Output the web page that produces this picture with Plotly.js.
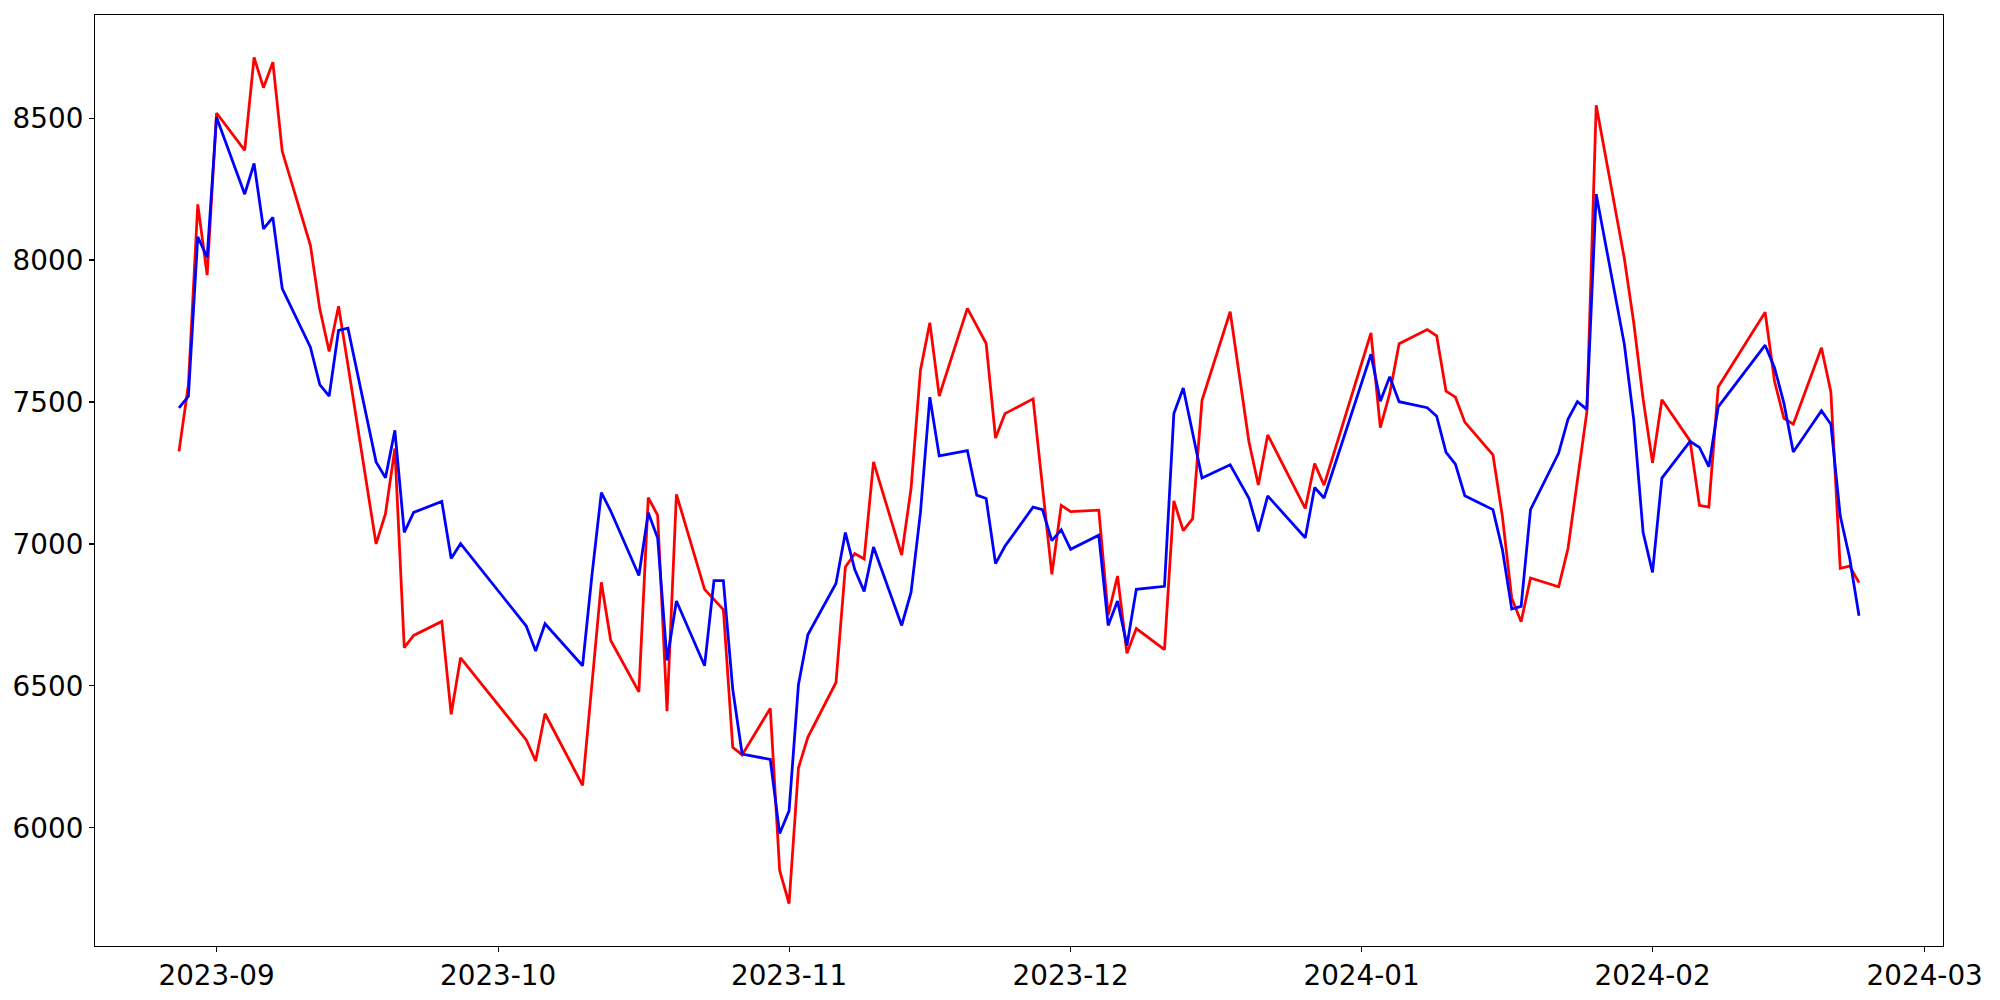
<!DOCTYPE html>
<html>
<head>
<meta charset="utf-8">
<script src="https://cdn.plot.ly/plotly-3.0.1.min.js"></script>
<style>html,body{margin:0;padding:0;background:#fff;}#chart{width:2000px;height:1000px;}</style>
</head>
<body>
<div id="chart"></div>
<script>
const dates = [
'2023-08-28','2023-08-29','2023-08-30','2023-08-31','2023-09-01',
'2023-09-04','2023-09-05','2023-09-06','2023-09-07','2023-09-08',
'2023-09-11','2023-09-12','2023-09-13','2023-09-14','2023-09-15',
'2023-09-18','2023-09-19','2023-09-20','2023-09-21','2023-09-22',
'2023-09-25','2023-09-26','2023-09-27',
'2023-10-04','2023-10-05','2023-10-06',
'2023-10-10','2023-10-11','2023-10-12','2023-10-13',
'2023-10-16','2023-10-17','2023-10-18','2023-10-19','2023-10-20',
'2023-10-23','2023-10-24','2023-10-25','2023-10-26','2023-10-27',
'2023-10-30','2023-10-31','2023-11-01','2023-11-02','2023-11-03',
'2023-11-06','2023-11-07','2023-11-08','2023-11-09','2023-11-10',
'2023-11-13','2023-11-14','2023-11-15','2023-11-16','2023-11-17',
'2023-11-20','2023-11-21','2023-11-22','2023-11-23','2023-11-24',
'2023-11-27','2023-11-28','2023-11-29','2023-11-30','2023-12-01',
'2023-12-04','2023-12-05','2023-12-06','2023-12-07','2023-12-08',
'2023-12-11','2023-12-12','2023-12-13','2023-12-14','2023-12-15',
'2023-12-18','2023-12-19','2023-12-20','2023-12-21','2023-12-22',
'2023-12-26','2023-12-27','2023-12-28',
'2024-01-02','2024-01-03','2024-01-04','2024-01-05',
'2024-01-08','2024-01-09','2024-01-10','2024-01-11','2024-01-12',
'2024-01-15','2024-01-16','2024-01-17','2024-01-18','2024-01-19',
'2024-01-22','2024-01-23','2024-01-24','2024-01-25','2024-01-26',
'2024-01-29','2024-01-30','2024-01-31','2024-02-01','2024-02-02',
'2024-02-05','2024-02-06','2024-02-07','2024-02-08',
'2024-02-13','2024-02-14','2024-02-15','2024-02-16',
'2024-02-19','2024-02-20','2024-02-21','2024-02-22','2024-02-23'
];

const redValues = [
7326,7560,8196,7947,8518,
8386,8714,8607,8697,8383,
8052,7828,7678,7837,7630,
7000,7107,7336,6635,6678,
6727,6400,6599,
6310,6236,6402,
6150,6500,6865,6660,
6479,7163,7101,6411,7175,
6840,6806,6769,6284,6257,
6421,5850,5733,6211,6319,
6512,6919,6966,6947,7289,
6961,7196,7612,7779,7521,
7830,7768,7706,7373,7459,
7511,7200,6893,7136,7114,
7119,6749,6887,6615,6702,
6628,7152,7047,7089,7506,
7818,7580,7360,7208,7384,
7125,7283,7207,
7743,7410,7530,7705,
7755,7733,7538,7517,7429,
7314,7098,6809,6726,6880,
6849,6985,7234,7464,8545,
8005,7779,7510,7286,7508,
7363,7136,7130,7553,
7816,7573,7442,7422,
7691,7536,6914,6922,6864
];

const blueValues = [
7479,7520,8082,8009,8503,
8232,8340,8110,8150,7899,
7693,7561,7521,7752,7760,
7289,7233,7400,7041,7111,
7150,6949,7001,
6711,6623,6719,
6571,6890,7181,7116,
6889,7110,7021,6590,6799,
6571,6871,6871,6488,6260,
6241,5980,6060,6504,6680,
6861,7040,6910,6833,6989,
6713,6830,7110,7517,7310,
7329,7172,7160,6931,6992,
7130,7121,7012,7050,6981,
7031,6713,6799,6642,6840,
6851,7459,7549,7390,7232,
7279,7221,7161,7044,7169,
7022,7199,7162,
7668,7503,7589,7501,
7480,7450,7323,7281,7170,
7121,6981,6771,6780,7121,
7320,7440,7501,7474,8232,
7703,7437,7040,6900,7232,
7361,7340,7272,7483,
7700,7621,7496,7324,
7469,7422,7099,6951,6747
];

// matplotlib-like 5% margins
function fmt(ms){ return new Date(ms).toISOString().replace('T',' ').slice(0,19); }
const t0 = Date.parse(dates[0]+'T00:00:00Z'), t1 = Date.parse(dates[dates.length-1]+'T00:00:00Z');
const tp = 0.05*(t1-t0);
const all = redValues.concat(blueValues);
const vmin = Math.min.apply(null, all), vmax = Math.max.apply(null, all);
const vp = 0.05*(vmax-vmin);

const axisCommon = {
  showline: true, linecolor: '#000', linewidth: 1.1, mirror: true,
  ticks: 'outside', ticklen: 5, tickwidth: 1.1, tickcolor: '#000',
  showgrid: false, zeroline: false,
  tickfont: {family: 'DejaVu Sans', size: 27.8, color: '#000'}
};

const traces = [
  {x: dates, y: redValues, type: 'scatter', mode: 'lines', line: {color: '#ff0000', width: 2.78}, hoverinfo: 'skip'},
  {x: dates, y: blueValues, type: 'scatter', mode: 'lines', line: {color: '#0000ff', width: 2.78}, hoverinfo: 'skip'}
];

const layout = {
  width: 2000, height: 1000,
  margin: {l: 95, r: 57, t: 15, b: 54, pad: 0},
  paper_bgcolor: '#fff', plot_bgcolor: '#fff',
  showlegend: false,
  xaxis: Object.assign({}, axisCommon, {
    type: 'date', range: [fmt(t0-tp), fmt(t1+tp)],
    tick0: '2023-09-01', dtick: 'M1', tickformat: '%Y-%m'
  }),
  yaxis: Object.assign({}, axisCommon, {
    range: [vmin-vp, vmax+vp], tick0: 0, dtick: 500, tickformat: 'd'
  })
};

Plotly.newPlot('chart', traces, layout, {displayModeBar: false, staticPlot: true});
</script>
</body>
</html>
